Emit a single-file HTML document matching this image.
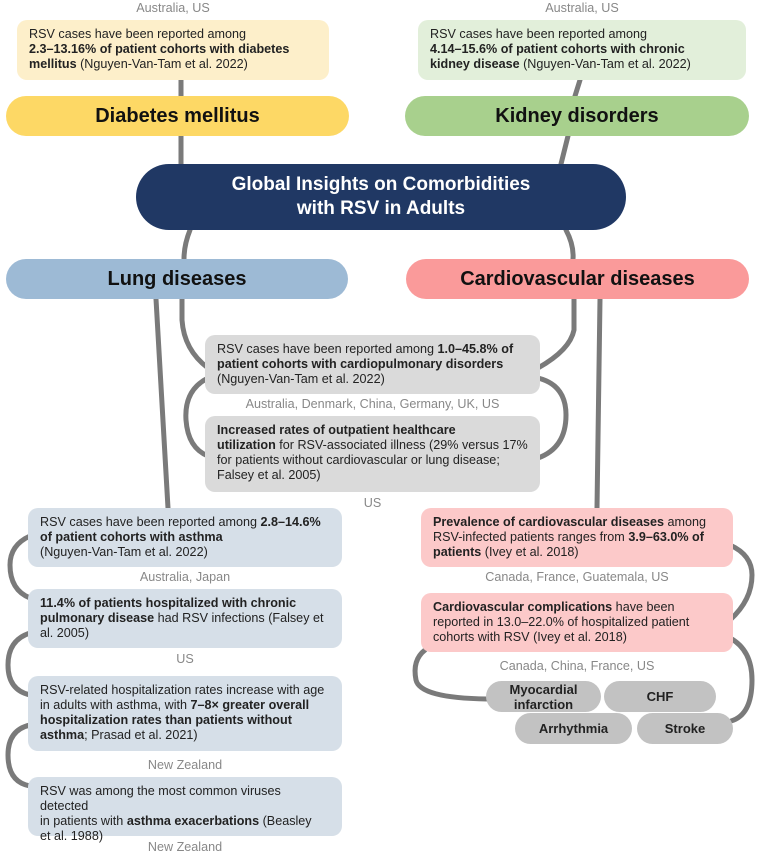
<!DOCTYPE html>
<html><head><meta charset="utf-8"><style>
body{margin:0;width:764px;height:854px;background:#fff;position:relative;overflow:hidden;font-family:"Liberation Sans","DejaVu Sans",sans-serif;}
.a{position:absolute;box-sizing:border-box}
.box{font-size:12.6px;line-height:15px;color:#222;padding:7px 10px 0 12px;border-radius:10px}
.lab{font-size:12.6px;color:#888;text-align:center;width:100%}
.pill{border-radius:22px;font-weight:bold;font-size:20px;text-align:center;color:#111}
.sp{border-radius:16px;background:#c2c2c2;font-weight:bold;font-size:13px;text-align:center;color:#222;line-height:15px}
b{font-weight:bold}
</style></head><body>
<svg class="a" style="left:0;top:0" width="764" height="854" fill="none" stroke="#7a7a7a" stroke-width="5" stroke-linecap="round">
<path d="M181 80 L181 96 M181 136 L181 164"/>
<path d="M580 80 L575 96 M568 136 L561 164"/>
<path d="M190 230 Q184 245 184 259"/>
<path d="M566 230 Q574 245 573 259"/>
<path d="M182 299 L182 320 Q184 350 208 368"/>
<path d="M156 299 L168 508"/>
<path d="M574 299 L574 330 Q570 350 538 368"/>
<path d="M600 299 L597 508"/>
<path d="M208 378 Q184 390 186 420 Q188 448 208 456"/>
<path d="M538 378 Q566 385 566 415 Q566 448 538 458"/>
<path d="M30 536 Q10 545 10 565 Q10 590 30 598"/>
<path d="M30 633 Q8 640 8 665 Q8 690 30 695"/>
<path d="M30 725 Q8 730 8 755 Q8 782 30 786"/>
<path d="M730 545 Q752 555 752 575 Q752 600 730 620"/>
<path d="M425 650 Q412 660 416 680 Q420 698 487 699"/>
<path d="M730 638 Q752 650 752 680 Q752 715 731 721"/>
</svg>
<div class="a lab" style="left:17px;width:312px;top:1px">Australia, US</div>
<div class="a box" style="left:17px;top:20px;width:312px;height:60px;background:#fdefca">RSV cases have been reported among<br><b>2.3–13.16% of patient cohorts with diabetes<br>mellitus</b> (Nguyen-Van-Tam et al. 2022)</div>
<div class="a lab" style="left:418px;width:328px;top:1px">Australia, US</div>
<div class="a box" style="left:418px;top:20px;width:328px;height:60px;background:#e2efda">RSV cases have been reported among<br><b>4.14–15.6% of patient cohorts with chronic<br>kidney disease</b> (Nguyen-Van-Tam et al. 2022)</div>
<div class="a pill" style="left:6px;top:96px;width:343px;height:40px;line-height:40px;background:#fdd865">Diabetes mellitus</div>
<div class="a pill" style="left:405px;top:96px;width:344px;height:40px;line-height:40px;background:#a8d08d">Kidney disorders</div>
<div class="a pill" style="left:136px;top:164px;width:490px;height:66px;border-radius:33px;background:#203864;color:#fff;font-size:19px;line-height:24px;padding-top:9px">Global Insights on Comorbidities<br>with RSV in Adults</div>
<div class="a pill" style="left:6px;top:259px;width:342px;height:40px;line-height:40px;background:#9dbad5">Lung diseases</div>
<div class="a pill" style="left:406px;top:259px;width:343px;height:40px;line-height:40px;background:#fa9a9a">Cardiovascular diseases</div>
<div class="a box" style="left:205px;top:335px;width:335px;height:59px;background:#dadada">RSV cases have been reported among <b>1.0–45.8% of<br>patient cohorts with cardiopulmonary disorders</b><br>(Nguyen-Van-Tam et al. 2022)</div>
<div class="a lab" style="left:205px;width:335px;top:397px">Australia, Denmark, China, Germany, UK, US</div>
<div class="a box" style="left:205px;top:416px;width:335px;height:76px;background:#dadada"><b>Increased rates of outpatient healthcare<br>utilization</b> for RSV-associated illness (29% versus 17%<br>for patients without cardiovascular or lung disease;<br>Falsey et al. 2005)</div>
<div class="a lab" style="left:205px;width:335px;top:496px">US</div>
<div class="a box" style="left:28px;top:508px;width:314px;height:59px;background:#d6dfe8">RSV cases have been reported among <b>2.8–14.6%<br>of patient cohorts with asthma</b><br>(Nguyen-Van-Tam et al. 2022)</div>
<div class="a lab" style="left:28px;width:314px;top:570px">Australia, Japan</div>
<div class="a box" style="left:28px;top:589px;width:314px;height:59px;background:#d6dfe8"><b>11.4% of patients hospitalized with chronic<br>pulmonary disease</b> had RSV infections (Falsey et<br>al. 2005)</div>
<div class="a lab" style="left:28px;width:314px;top:652px">US</div>
<div class="a box" style="left:28px;top:676px;width:314px;height:75px;background:#d6dfe8">RSV-related hospitalization rates increase with age<br>in adults with asthma, with <b>7–8× greater overall<br>hospitalization rates than patients without<br>asthma</b>; Prasad et al. 2021)</div>
<div class="a lab" style="left:28px;width:314px;top:758px">New Zealand</div>
<div class="a box" style="left:28px;top:777px;width:314px;height:59px;background:#d6dfe8">RSV was among the most common viruses detected<br>in patients with <b>asthma exacerbations</b> (Beasley<br>et al. 1988)</div>
<div class="a lab" style="left:28px;width:314px;top:840px">New Zealand</div>
<div class="a box" style="left:421px;top:508px;width:312px;height:59px;background:#fcc9c9"><b>Prevalence of cardiovascular diseases</b> among<br>RSV-infected patients ranges from <b>3.9–63.0% of<br>patients</b> (Ivey et al. 2018)</div>
<div class="a lab" style="left:421px;width:312px;top:570px">Canada, France, Guatemala, US</div>
<div class="a box" style="left:421px;top:593px;width:312px;height:59px;background:#fcc9c9"><b>Cardiovascular complications</b> have been<br>reported in 13.0–22.0% of hospitalized patient<br>cohorts with RSV (Ivey et al. 2018)</div>
<div class="a lab" style="left:421px;width:312px;top:659px">Canada, China, France, US</div>
<div class="a sp" style="left:486px;top:681px;width:115px;height:31px;padding-top:1px">Myocardial<br>infarction</div>
<div class="a sp" style="left:604px;top:681px;width:112px;height:31px;line-height:31px">CHF</div>
<div class="a sp" style="left:515px;top:713px;width:117px;height:31px;line-height:31px">Arrhythmia</div>
<div class="a sp" style="left:637px;top:713px;width:96px;height:31px;line-height:31px">Stroke</div>
</body></html>
